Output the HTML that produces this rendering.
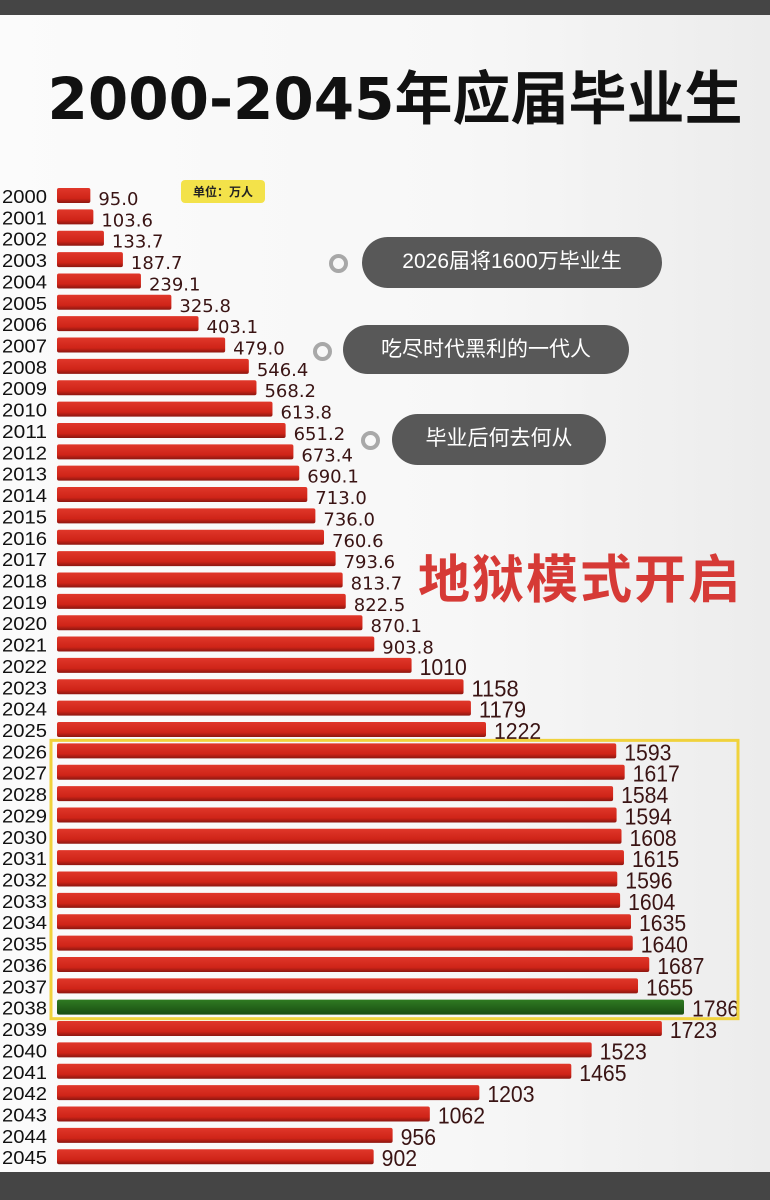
<!DOCTYPE html>
<html><head><meta charset="utf-8">
<style>
html,body{margin:0;padding:0}
body{width:770px;height:1200px;position:relative;overflow:hidden;background:linear-gradient(90deg,#fbfbfb 0%,#f7f7f7 60%,#ececec 100%);font-family:"Liberation Sans","Noto Sans CJK SC",sans-serif}
.band{position:absolute;left:0;width:770px;background:#454545}
#title{position:absolute;left:0;top:52px;width:790px;text-align:center;font-size:58px;font-weight:bold;color:#111;font-family:"DejaVu Sans","Noto Sans CJK SC",sans-serif}
.pill{position:absolute;background:#585858;color:#fff;border-radius:26px;font-size:21px;text-align:center;line-height:50px;font-family:"Liberation Sans","Noto Sans CJK SC",sans-serif}
.ring{position:absolute;width:11px;height:11px;border:4px solid #a8a8a8;border-radius:50%}
#hell{position:absolute;left:418px;top:538px;font-size:52px;font-weight:bold;color:#d63a36;font-family:"Noto Sans CJK SC",sans-serif;letter-spacing:2px}
#unit{position:absolute;left:181px;top:180px;width:84px;height:23px;background:#f3e24a;border-radius:4px;font-size:12px;font-weight:bold;line-height:23px;text-align:center;font-family:"Noto Sans CJK SC",sans-serif;color:#222}
</style></head><body>
<div class="band" style="top:0;height:15px"></div>
<div class="band" style="top:1172px;height:28px"></div>
<div id="title">2000-2045年应届毕业生</div>
<div id="unit">单位：万人</div>
<div class="ring" style="left:329px;top:254px"></div>
<div class="pill" style="left:362px;top:237px;width:300px;height:51px">2026届将1600万毕业生</div>
<div class="ring" style="left:313px;top:342px"></div>
<div class="pill" style="left:343px;top:325px;width:286px;height:49px">吃尽时代黑利的一代人</div>
<div class="ring" style="left:361px;top:431px"></div>
<div class="pill" style="left:392px;top:414px;width:214px;height:51px">毕业后何去何从</div>
<div id="hell">地狱模式开启</div>
<svg id="chart" width="770" height="1200" style="position:absolute;left:0;top:0">
<defs>
<linearGradient id="gr" x1="0" y1="0" x2="0" y2="1"><stop offset="0" stop-color="#e0372a"/><stop offset="0.7" stop-color="#cf2418"/><stop offset="1" stop-color="#8c1610"/></linearGradient>
<linearGradient id="gg" x1="0" y1="0" x2="0" y2="1"><stop offset="0" stop-color="#2f7a22"/><stop offset="1" stop-color="#1a4d12"/></linearGradient>
</defs>
</svg>
<script>
const years=[2000,2001,2002,2003,2004,2005,2006,2007,2008,2009,2010,2011,2012,2013,2014,2015,2016,2017,2018,2019,2020,2021,2022,2023,2024,2025,2026,2027,2028,2029,2030,2031,2032,2033,2034,2035,2036,2037,2038,2039,2040,2041,2042,2043,2044,2045];
const values=[95.0,103.6,133.7,187.7,239.1,325.8,403.1,479.0,546.4,568.2,613.8,651.2,673.4,690.1,713.0,736.0,760.6,793.6,813.7,822.5,870.1,903.8,1010,1158,1179,1222,1593,1617,1584,1594,1608,1615,1596,1604,1635,1640,1687,1655,1786,1723,1523,1465,1203,1062,956,902];
const labels=["95.0","103.6","133.7","187.7","239.1","325.8","403.1","479.0","546.4","568.2","613.8","651.2","673.4","690.1","713.0","736.0","760.6","793.6","813.7","822.5","870.1","903.8","1010","1158","1179","1222","1593","1617","1584","1594","1608","1615","1596","1604","1635","1640","1687","1655","1786","1723","1523","1465","1203","1062","956","902"];
const highlightYear=2038;
const boxStart=2026, boxEnd=2038;
const NS="http://www.w3.org/2000/svg";
const svg=document.getElementById('chart');
const x0=57, scale=(684-57)/1786;
const xs=v=>x0+v*scale;
const top0=188, pitch=21.36, bh=15;
const ys=i=>top0+i*pitch;
years.forEach((yr,i)=>{
  const y=ys(i);
  const r=document.createElementNS(NS,'rect');
  r.setAttribute('x',x0);r.setAttribute('y',y);r.setAttribute('width',xs(values[i])-x0);r.setAttribute('height',bh);r.setAttribute('rx',2);
  r.setAttribute('fill',yr===highlightYear?'url(#gg)':'url(#gr)');
  
  
  svg.appendChild(r);
  const t=document.createElementNS(NS,'text');
  t.setAttribute('x',2);t.setAttribute('y',y+bh);t.setAttribute('font-size','18');t.setAttribute('fill','#111');
  t.setAttribute('textLength','45');t.setAttribute('lengthAdjust','spacingAndGlyphs');
  t.textContent=yr;
  
  
  svg.appendChild(t);
  const v=document.createElementNS(NS,'text');
  const dec=labels[i].indexOf('.')>=0;
  v.setAttribute('x',xs(values[i])+8);v.setAttribute('y',y+bh+2);
  v.setAttribute('fill','#3a1414');
  if(dec){
    v.setAttribute('font-size','18');
    v.setAttribute('font-family','"DejaVu Sans",sans-serif');
  } else {
    v.setAttribute('font-size','23');
    v.setAttribute('textLength',String(labels[i].length*11.8));
    v.setAttribute('lengthAdjust','spacingAndGlyphs');
  }
  v.textContent=labels[i];
  
  
  svg.appendChild(v);
});
const bi=years.indexOf(boxStart), be=years.indexOf(boxEnd);
const box=document.createElementNS(NS,'rect');
box.setAttribute('x',51);box.setAttribute('y',ys(bi)-3);box.setAttribute('width',687);box.setAttribute('height',ys(be)+bh+4-(ys(bi)-3));
box.setAttribute('fill','none');box.setAttribute('stroke','#f0d23c');box.setAttribute('stroke-width','3');


svg.appendChild(box);
</script>
</body></html>
